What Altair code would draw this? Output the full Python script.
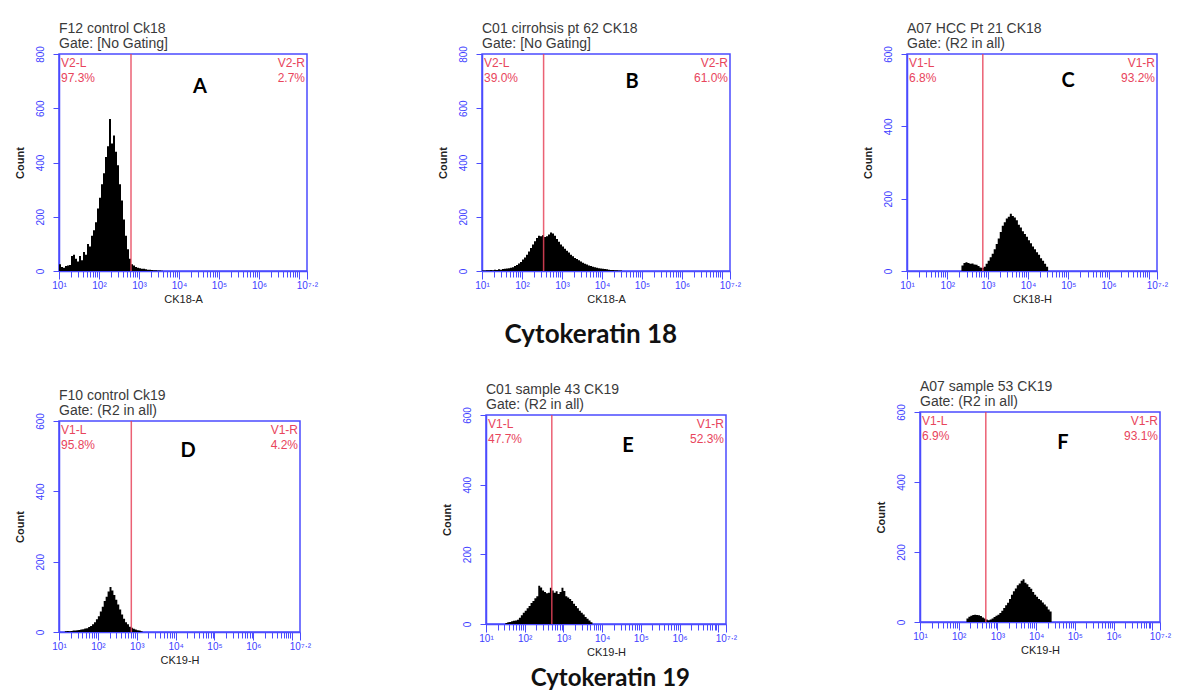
import altair as alt
import pandas as pd

# ---------------- data ----------------
BIN = 0.05  # histogram bin width in log10 decades

# panel A: F12 control Ck18
A_start = 1.00
A_counts = [25, 15, 12, 18, 20, 22, 55, 60, 45, 35, 55, 40, 70, 60, 100, 90, 130, 150, 180, 230,
            270, 320, 360, 420, 460, 560, 470, 500, 440, 390, 320, 260, 190, 130, 80, 45, 25, 20,
            15, 12, 10, 8, 8, 6, 5, 5, 4, 3, 3, 2, 2, 1]
# panel B: C01 cirrhosis pt 62 CK18
B_start = 1.00
B_counts = [2, 2, 3, 3, 4, 3, 5, 4, 6, 5, 7, 8, 9, 10, 12, 14, 18, 22, 28, 33, 42, 50, 60, 72, 85,
            98, 110, 122, 130, 128, 132, 125, 128, 135, 142, 138, 130, 118, 108, 98, 90, 82, 75,
            68, 60, 54, 48, 44, 40, 35, 30, 27, 24, 20, 18, 16, 14, 12, 10, 9, 8, 7, 6, 5, 4, 4,
            3, 3, 2, 2]
# panel C: A07 HCC Pt 21 CK18
C_start = 2.35
C_counts = [15, 22, 24, 22, 20, 21, 18, 17, 14, 10, 8, 12, 20, 28, 38, 48, 60, 75, 90, 108, 125,
            135, 145, 150, 158, 152, 148, 140, 128, 120, 110, 102, 95, 85, 77, 68, 60, 52, 45, 35,
            28, 20, 12]
# panel D: F10 control Ck19
D_start = 1.15
D_counts = [2, 3, 2, 3, 4, 4, 5, 6, 7, 8, 10, 11, 14, 17, 22, 28, 36, 45, 58, 72, 88, 100, 115,
            128, 118, 105, 92, 78, 64, 50, 38, 28, 22, 15, 12, 9, 7, 5, 4, 2]
# panel E: C01 sample 43 CK19
E_start = 1.50
E_counts = [3, 5, 6, 8, 9, 10, 12, 18, 25, 32, 38, 45, 52, 60, 66, 74, 80, 110, 105, 96, 92, 88,
            90, 104, 96, 90, 94, 86, 92, 104, 95, 80, 76, 72, 66, 58, 52, 45, 38, 32, 27, 20, 15,
            10, 5]
# panel F: A07 sample 53 CK19
F_start = 2.20
F_counts = [10, 15, 18, 20, 21, 20, 19, 17, 13, 10, 7, 5, 7, 10, 14, 18, 21, 26, 32, 40, 48, 55,
            66, 78, 88, 96, 105, 110, 118, 122, 112, 108, 100, 95, 86, 78, 72, 66, 62, 56, 50, 44,
            36, 30]

titles = [["F12 control Ck18", "Gate: [No Gating]"],
          ["C01 cirrohsis pt 62 CK18", "Gate: [No Gating]"],
          ["A07 HCC Pt 21 CK18", "Gate: (R2 in all)"],
          ["F10 control Ck19", "Gate: (R2 in all)"],
          ["C01 sample 43 CK19", "Gate: (R2 in all)"],
          ["A07 sample 53 CK19", "Gate: (R2 in all)"]]
x_titles = ["CK18-A", "CK18-A", "CK18-H", "CK19-H", "CK19-H", "CK19-H"]
letters = ["A", "B", "C", "D", "E", "F"]
y_max = [800, 800, 600, 600, 600, 600]
gates_log = [2.80, 2.54, 2.88, 2.86, 2.70, 2.70]
left_gate = [["V2-L", "97.3%"], ["V2-L", "39.0%"], ["V1-L", "6.8%"],
             ["V1-L", "95.8%"], ["V1-L", "47.7%"], ["V1-L", "6.9%"]]
right_gate = [["V2-R", "2.7%"], ["V2-R", "61.0%"], ["V1-R", "93.2%"],
              ["V1-R", "4.2%"], ["V1-R", "52.3%"], ["V1-R", "93.1%"]]
starts = [A_start, B_start, C_start, D_start, E_start, F_start]
counts = [A_counts, B_counts, C_counts, D_counts, E_counts, F_counts]

decades = [10, 100, 1000, 10000, 100000, 1000000, 10000000]
x_max = 10 ** 7.2
major_ticks = decades + [x_max]
labelled_ticks = [10, 100, 1000, 10000, 100000, 1000000, x_max]
tick_labels = ["10¹", "10²", "10³", "10⁴", "10⁵", "10⁶", "10⁷·²"]
minor_ticks = [m * d for d in decades for m in range(2, 10) if m * d < x_max]

# ---------------- layout / style ----------------
sizes = [(248, 217), (248, 217), (250, 217), (241, 211), (240, 209), (240, 210)]
spacer_h = [13, 7, 1]  # stagger of the lower panels
letter_pos = [(141, 33), (150, 28), (161, 27), (129, 30), (142, 31), (143, 31)]
BLUE = "#4b4bff"
RED = "#e8455c"

major_js = "[" + ",".join(repr(v) for v in major_ticks) + "]"
lab_js = "[" + ",".join(repr(v) for v in labelled_ticks) + "]"
labels_js = "[" + ",".join("'" + s + "'" for s in tick_labels) + "]"
label_expr = f"indexof({lab_js}, datum.value) >= 0 ? {labels_js}[indexof({lab_js}, datum.value)] : ''"


def panel(i):
    w, h = sizes[i]
    st = starts[i]
    cs = counts[i]
    xs = [10 ** (st + k * BIN) for k in range(len(cs))] + [10 ** (st + len(cs) * BIN)]
    ys = list(cs) + [0]
    df = pd.DataFrame({"x": xs, "count": ys})
    xscale = alt.Scale(type="log", domain=[10, x_max], nice=False)
    yscale = alt.Scale(domain=[0, y_max[i]], nice=False)
    xaxis = alt.Axis(values=major_ticks + minor_ticks, labelExpr=label_expr, labelOverlap=False,
                     labelFlush=False, labelFontSize=10, labelPadding=1, grid=False,
                     tickSize={"condition": {"test": f"indexof({major_js}, datum.value) >= 0", "value": 8},
                               "value": 6},
                     titleFontSize=11, titlePadding=3, titleFontWeight="normal")
    yaxis = alt.Axis(values=list(range(0, y_max[i] + 1, 200)), labelAngle=270, tickSize=6, grid=False,
                     labelPadding=8, labelFontSize=10, title="Count", titleFontSize=11,
                     titleFontWeight="bold", titlePadding=10)
    hist = alt.Chart(df).mark_area(interpolate="step-after", color="black").encode(
        x=alt.X("x:Q", scale=xscale, axis=xaxis, title=x_titles[i]),
        y=alt.Y("count:Q", scale=yscale, axis=yaxis, title="Count"),
    )
    rule = alt.Chart(pd.DataFrame({"g": [10 ** gates_log[i]]})).mark_rule(
        color=RED, strokeWidth=1.5, opacity=0.85).encode(
        x=alt.X("g:Q", scale=xscale, title=x_titles[i]))
    one = pd.DataFrame({"a": [0]})
    ltxt = alt.Chart(one).mark_text(text=left_gate[i], align="left", baseline="top", color=RED,
                                    fontSize=12, font="Liberation Sans", lineHeight=15).encode(
        x=alt.value(2), y=alt.value(4))
    rtxt = alt.Chart(one).mark_text(text=right_gate[i], align="right", baseline="top", color=RED,
                                    fontSize=12, font="Liberation Sans", lineHeight=15).encode(
        x=alt.value(w - 2), y=alt.value(4))
    lx, ly = letter_pos[i]
    let = alt.Chart(one).mark_text(text=letters[i], align="center", baseline="middle", color="black",
                                   fontSize=20, font="Lato", fontWeight="bold").encode(
        x=alt.value(lx), y=alt.value(ly))
    return alt.layer(hist, rule, ltxt, rtxt, let).properties(
        width=w, height=h,
        title=alt.TitleParams(text=titles[i], anchor="start", frame="group", fontSize=14,
                              font="Liberation Sans", fontWeight="normal", color="#3a3a3a",
                              lineHeight=15, offset=-5),
    )


def spacer(hh):
    return alt.Chart(pd.DataFrame({"a": [0]})).mark_point(opacity=0).properties(
        width=1, height=hh, view=alt.ViewBackground(strokeOpacity=0))


row1 = alt.hconcat(alt.hconcat(panel(0), panel(1), spacing=117), panel(2), spacing=119,
                   title=alt.TitleParams("Cytokeratin 18", orient="bottom", anchor="middle",
                                         fontSize=26, font="Lato", fontWeight="bold", color="#111",
                                         offset=17))
cols2 = [alt.vconcat(spacer(spacer_h[k]), panel(3 + k), spacing=0) for k in range(3)]
row2 = alt.hconcat(alt.hconcat(cols2[0], cols2[1], spacing=128), cols2[2], spacing=136,
                   title=alt.TitleParams("Cytokeratin 19", orient="bottom", anchor="middle",
                                         fontSize=24, font="Lato", fontWeight="bold", color="#111",
                                         offset=1, dx=18))

chart = alt.vconcat(row1, row2, spacing=23).properties(
    padding={"left": 13, "top": 20, "right": 0, "bottom": 0}, background="white"
).configure_view(stroke=BLUE, strokeWidth=1.5).configure_axis(
    domainColor=BLUE, tickColor=BLUE, labelColor="#4040ff", titleColor="#222", grid=False,
    labelFont="Liberation Sans", titleFont="Liberation Sans", domainWidth=1.5
)

chart.save("out.html", embed_options={"renderer": "svg", "actions": False})
